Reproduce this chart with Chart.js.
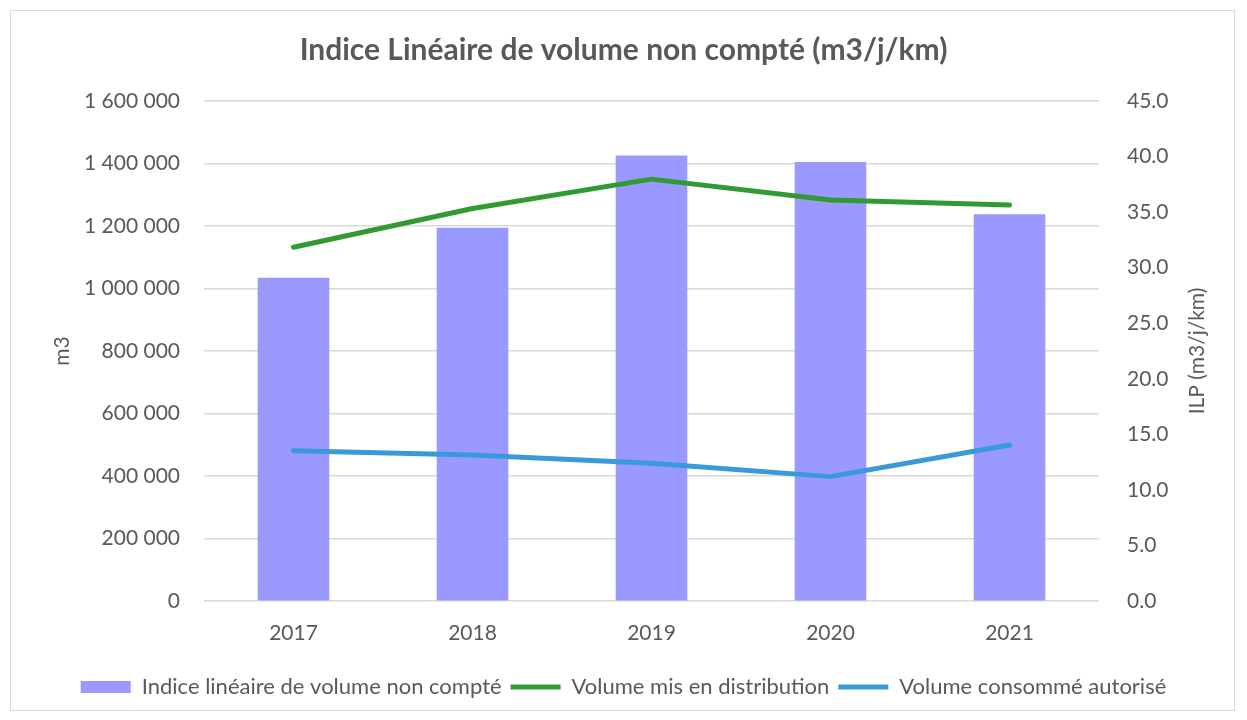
<!DOCTYPE html>
<html>
<head>
<meta charset="utf-8">
<script src="https://cdn.jsdelivr.net/npm/chart.js@4.4.1/dist/chart.umd.min.js"></script>
<style>
  html, body { margin: 0; background: #fff; }
  canvas { display: block; }
</style>
</head>
<body>
<canvas id="c" width="1247" height="720"></canvas>
<script>
// données
const annees = ["2017", "2018", "2019", "2020", "2021"];
const ilp = [29.1, 33.6, 40.1, 39.5, 34.8];                          // m3/j/km (axe droit)
const volDistribue = [1132000, 1256000, 1350000, 1283000, 1267000];  // m3
const volConsomme = [481000, 467000, 441000, 398000, 499000];        // m3

const GRIS = "#595959";
const FONT = "Lato, 'Open Sans', sans-serif";

// cadre + titre de l'axe droit (lu de bas en haut comme dans Excel)
const extras = {
  id: "extras",
  afterDraw(chart) {
    const ctx = chart.ctx;
    ctx.save();
    ctx.strokeStyle = "#d9d9d9";
    ctx.lineWidth = 1;
    ctx.strokeRect(10.5, 10.5, 1224, 700);
    const a = chart.chartArea;
    ctx.translate(1197, (a.top + a.bottom) / 2);
    ctx.rotate(-Math.PI / 2);
    ctx.fillStyle = GRIS;
    ctx.font = "21px " + FONT;
    ctx.textAlign = "center";
    ctx.textBaseline = "middle";
    ctx.fillText("ILP (m3/j/km)", 0, 0);
    ctx.restore();
  }
};

new Chart(document.getElementById("c"), {
  type: "bar",
  data: {
    labels: annees,
    datasets: [
      { type: "bar", label: "Indice linéaire de volume non compté", data: ilp, yAxisID: "y1",
        backgroundColor: "#9999ff", categoryPercentage: 0.4, barPercentage: 1, order: 2 },
      { type: "line", label: "Volume mis en distribution", data: volDistribue, yAxisID: "y",
        borderColor: "#339933", backgroundColor: "#339933", borderWidth: 5, pointRadius: 0,
        tension: 0, borderJoinStyle: "round", borderCapStyle: "round", order: 1 },
      { type: "line", label: "Volume consommé autorisé", data: volConsomme, yAxisID: "y",
        borderColor: "#3a9ad9", backgroundColor: "#3a9ad9", borderWidth: 5, pointRadius: 0,
        tension: 0, borderJoinStyle: "round", borderCapStyle: "round", order: 1 }
    ]
  },
  options: {
    responsive: false,
    animation: false,
    layout: { padding: { top: 10, bottom: 12, left: 0, right: 0 } },
    plugins: {
      title: { display: true, text: "Indice Linéaire de volume non compté (m3/j/km)", color: GRIS,
        font: { family: FONT, size: 30, weight: "bold" }, padding: { top: 22, bottom: 33 } },
      legend: {
        position: "bottom",
        labels: {
          color: GRIS, font: { family: FONT, size: 22 }, usePointStyle: true, pointStyleWidth: 50,
          boxHeight: 12, padding: 9,
          generateLabels(chart) {
            return chart.data.datasets.map((ds, i) => ({
              text: ds.label, datasetIndex: i,
              pointStyle: ds.type === "bar" ? "rect" : "line",
              fillStyle: ds.backgroundColor, strokeStyle: ds.type === "bar" ? ds.backgroundColor : ds.borderColor,
              lineWidth: ds.type === "bar" ? 0 : 5, fontColor: GRIS, hidden: false
            }));
          }
        }
      },
      tooltip: { enabled: false }
    },
    scales: {
      x: {
        afterFit(s) { s.height = 66; },
        grid: { display: false }, border: { display: false },
        ticks: { color: GRIS, font: { family: FONT, size: 21 }, padding: 12 }
      },
      y: {
        position: "left", min: 0, max: 1600000,
        afterFit(s) { s.width = 204; },
        grid: { color: "#d9d9d9", lineWidth: 1.5, drawTicks: false }, border: { display: false },
        ticks: { stepSize: 200000, color: GRIS, font: { family: FONT, size: 21 }, padding: 24,
          callback: v => v.toLocaleString("fr-FR").replace(/\s/g, " ") },
        title: { display: true, text: "m3", color: GRIS, font: { family: FONT, size: 21 }, padding: { top: 50 } }
      },
      y1: {
        position: "right", min: 0, max: 45,
        afterFit(s) { s.width = 148; },
        grid: { drawOnChartArea: false, drawTicks: false }, border: { display: false },
        ticks: { stepSize: 5, color: GRIS, font: { family: FONT, size: 21 }, padding: 28,
          callback: v => v.toFixed(1) }
      }
    }
  },
  plugins: [extras]
});
</script>
</body>
</html>
